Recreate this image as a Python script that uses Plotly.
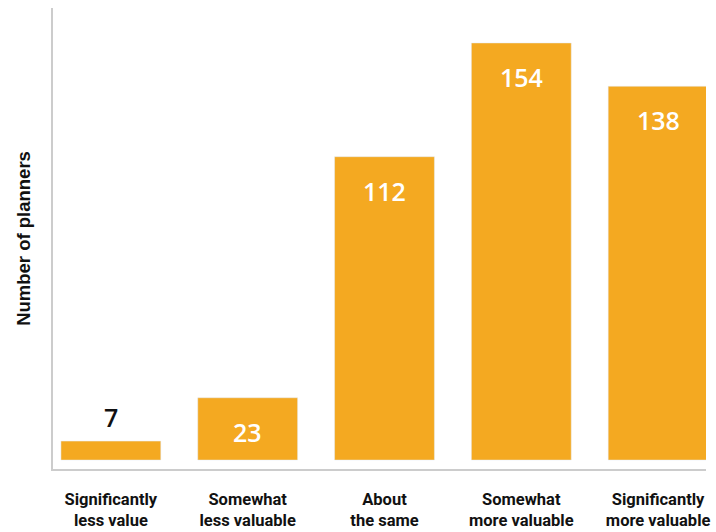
import plotly.graph_objects as go

categories = ["Significantly<br>less value", "Somewhat<br>less valuable", "About<br>the same",
              "Somewhat<br>more valuable", "Significantly<br>more valuable"]
values = [7, 23, 112, 154, 138]

bar_color = "#F4A921"

fig = go.Figure()
fig.add_trace(go.Bar(x=categories, y=values, marker_color=bar_color, width=0.73,
                     hoverinfo="skip"))

for c, v in zip(categories, values):
    inside = v > 15
    fig.add_annotation(x=c, y=v, text=str(v), showarrow=False, yanchor="middle",
                       yshift=-34 if inside else 24,
                       font=dict(family="Open Sans", size=25, weight=600,
                                 color="white" if inside else "#111111"))

fig.update_layout(
    width=716, height=532,
    margin=dict(l=53, r=10, t=8, b=63),
    plot_bgcolor="white", paper_bgcolor="white",
    showlegend=False,
    xaxis=dict(range=[-0.423, 4.35], showline=True, linecolor="#CCCCCC", linewidth=1.5,
               showgrid=False, zeroline=False, ticks="", ticklabelstandoff=14,
               tickangle=0, automargin=False,
               tickfont=dict(family="Roboto", size=16.5,
                             weight="bold", color="#111111")),
    yaxis=dict(range=[-3.3, 166.9], showline=True, linecolor="#CCCCCC", linewidth=1.5,
               showgrid=False, zeroline=False, showticklabels=False, ticks="",
               automargin=False,
               title=dict(text="Number of planners", standoff=16,
                          font=dict(family="Liberation Sans, Arial", size=18.5, weight="bold",
                                    color="#111111"))),
)

fig.write_html("out.html")
